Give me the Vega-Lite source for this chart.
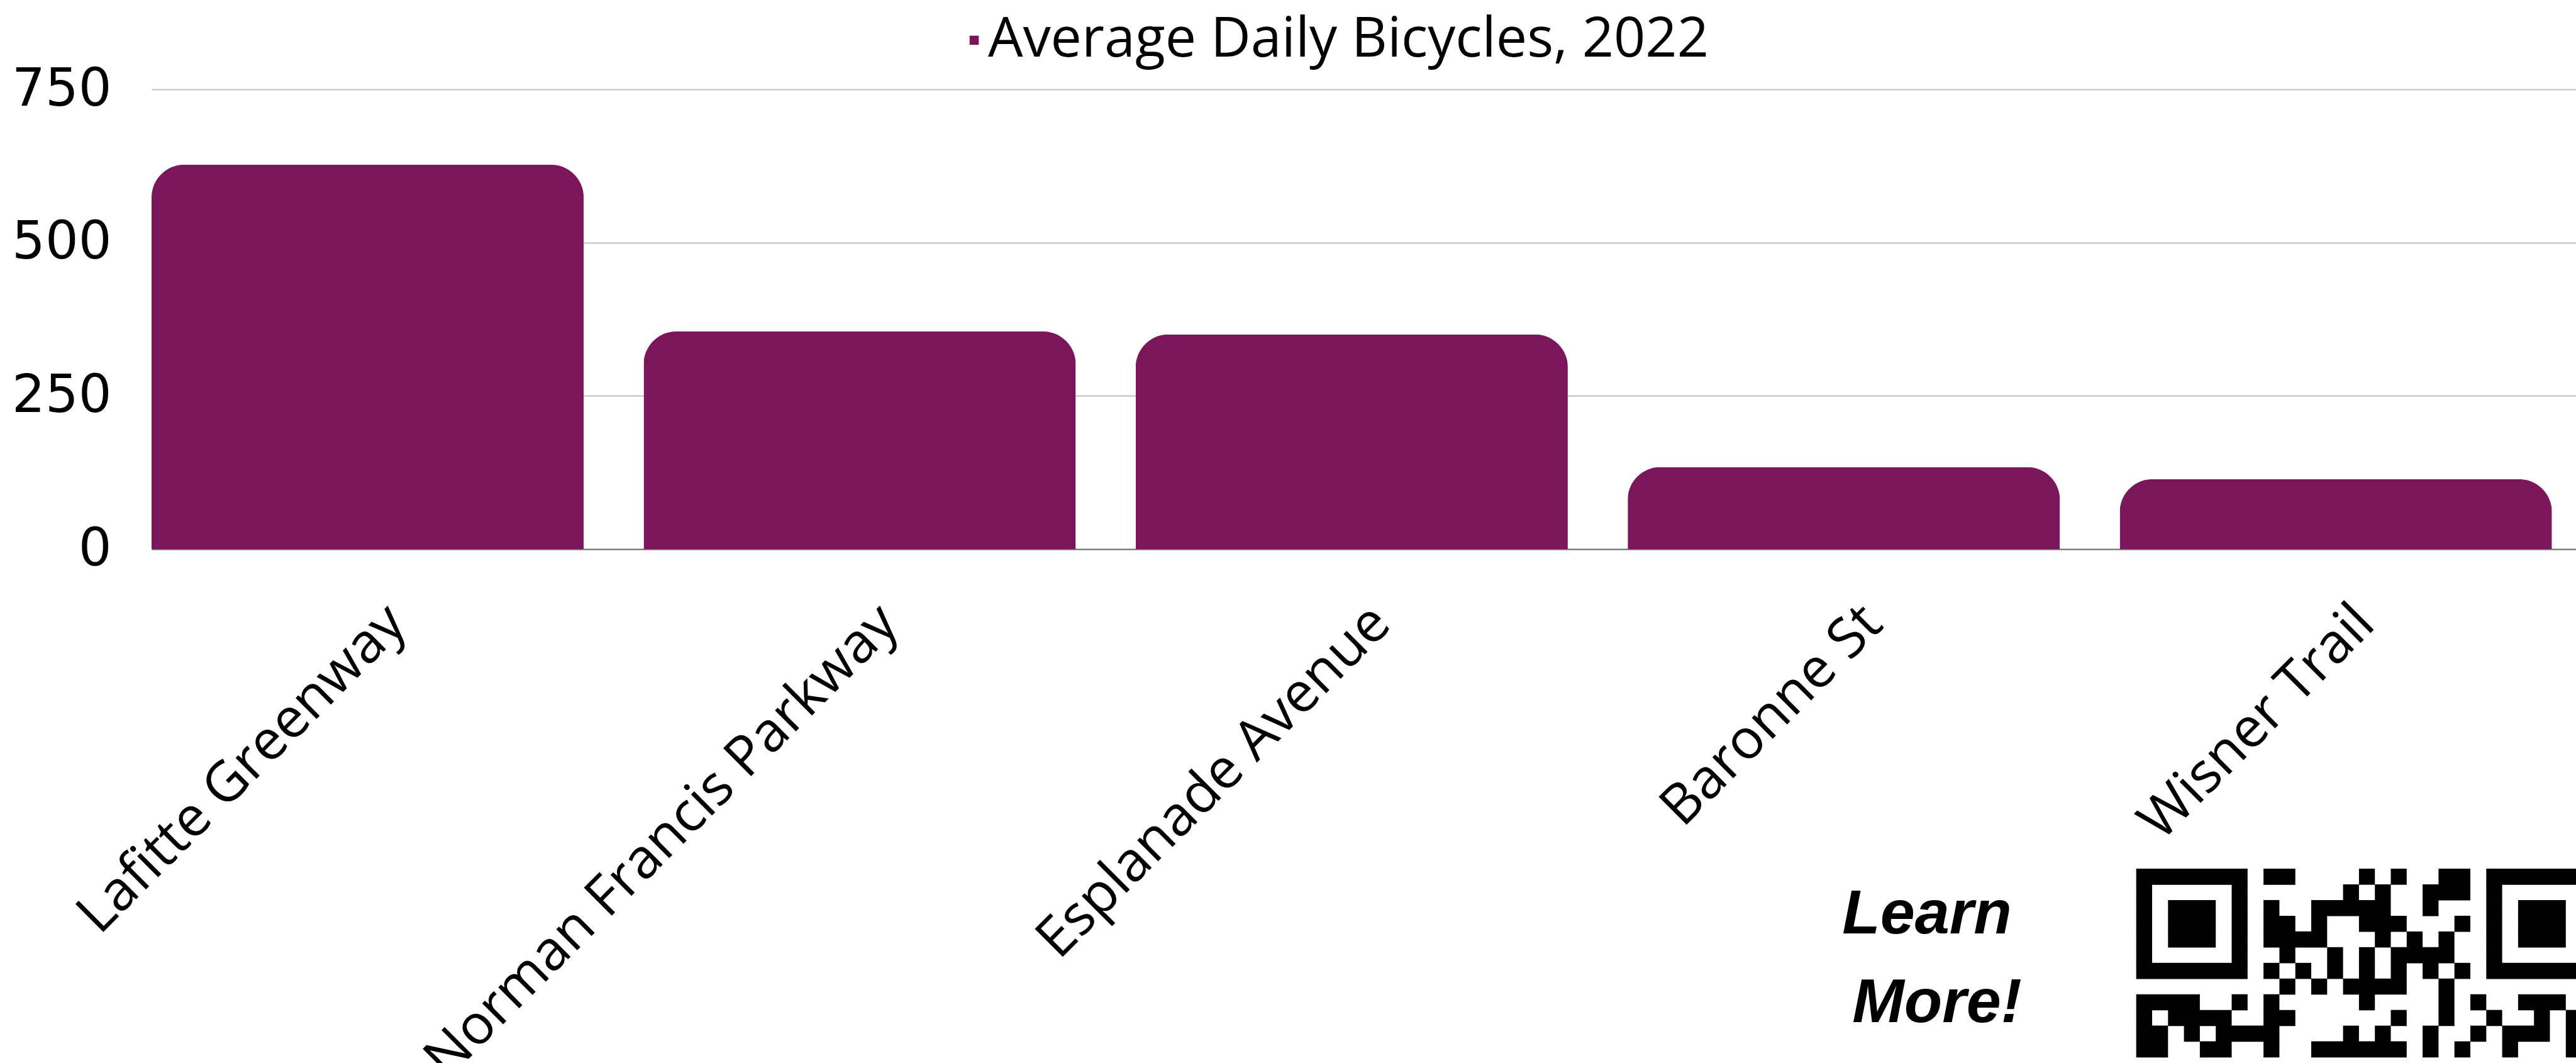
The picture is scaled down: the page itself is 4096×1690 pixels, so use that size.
{
  "$schema": "https://vega.github.io/schema/vega-lite/v6.json",
  "autosize": "none",
  "width": 3855,
  "height": 731,
  "padding": {"left": 241, "top": 142, "right": 0, "bottom": 817},
  "background": "white",
  "config": {"view": {"stroke": null}},
  "datasets": {
    "counts": [
      {"location": "Lafitte Greenway", "bicycles": 627},
      {"location": "Norman Francis Parkway", "bicycles": 355},
      {"location": "Esplanade Avenue", "bicycles": 350},
      {"location": "Baronne St", "bicycles": 134},
      {"location": "Wisner Trail", "bicycles": 114}
    ],
    "qr": [
      {"r": 0, "c": 0, "e": 7}, {"r": 0, "c": 8, "e": 10}, {"r": 0, "c": 14, "e": 15}, {"r": 0, "c": 16, "e": 17}, {"r": 0, "c": 19, "e": 21}, {"r": 0, "c": 22, "e": 29},
      {"r": 1, "c": 0, "e": 1}, {"r": 1, "c": 6, "e": 7}, {"r": 1, "c": 13, "e": 14}, {"r": 1, "c": 15, "e": 16}, {"r": 1, "c": 18, "e": 21}, {"r": 1, "c": 22, "e": 23}, {"r": 1, "c": 28, "e": 29},
      {"r": 2, "c": 0, "e": 1}, {"r": 2, "c": 2, "e": 5}, {"r": 2, "c": 6, "e": 7}, {"r": 2, "c": 8, "e": 9}, {"r": 2, "c": 11, "e": 16}, {"r": 2, "c": 18, "e": 19}, {"r": 2, "c": 22, "e": 23}, {"r": 2, "c": 24, "e": 27}, {"r": 2, "c": 28, "e": 29},
      {"r": 3, "c": 0, "e": 1}, {"r": 3, "c": 2, "e": 5}, {"r": 3, "c": 6, "e": 7}, {"r": 3, "c": 8, "e": 10}, {"r": 3, "c": 11, "e": 12}, {"r": 3, "c": 14, "e": 17}, {"r": 3, "c": 20, "e": 21}, {"r": 3, "c": 22, "e": 23}, {"r": 3, "c": 24, "e": 27}, {"r": 3, "c": 28, "e": 29},
      {"r": 4, "c": 0, "e": 1}, {"r": 4, "c": 2, "e": 5}, {"r": 4, "c": 6, "e": 7}, {"r": 4, "c": 8, "e": 12}, {"r": 4, "c": 15, "e": 16}, {"r": 4, "c": 17, "e": 18}, {"r": 4, "c": 19, "e": 20}, {"r": 4, "c": 22, "e": 23}, {"r": 4, "c": 24, "e": 27}, {"r": 4, "c": 28, "e": 29},
      {"r": 5, "c": 0, "e": 1}, {"r": 5, "c": 6, "e": 7}, {"r": 5, "c": 9, "e": 10}, {"r": 5, "c": 12, "e": 13}, {"r": 5, "c": 14, "e": 15}, {"r": 5, "c": 16, "e": 20}, {"r": 5, "c": 22, "e": 23}, {"r": 5, "c": 28, "e": 29},
      {"r": 6, "c": 0, "e": 7}, {"r": 6, "c": 8, "e": 9}, {"r": 6, "c": 10, "e": 11}, {"r": 6, "c": 12, "e": 13}, {"r": 6, "c": 14, "e": 15}, {"r": 6, "c": 16, "e": 17}, {"r": 6, "c": 18, "e": 19}, {"r": 6, "c": 20, "e": 21}, {"r": 6, "c": 22, "e": 29},
      {"r": 7, "c": 9, "e": 10}, {"r": 7, "c": 11, "e": 12}, {"r": 7, "c": 13, "e": 17}, {"r": 7, "c": 19, "e": 20},
      {"r": 8, "c": 0, "e": 4}, {"r": 8, "c": 6, "e": 7}, {"r": 8, "c": 8, "e": 9}, {"r": 8, "c": 14, "e": 15}, {"r": 8, "c": 19, "e": 20}, {"r": 8, "c": 21, "e": 22}, {"r": 8, "c": 24, "e": 27},
      {"r": 9, "c": 0, "e": 1}, {"r": 9, "c": 2, "e": 6}, {"r": 9, "c": 8, "e": 10}, {"r": 9, "c": 16, "e": 17}, {"r": 9, "c": 19, "e": 20}, {"r": 9, "c": 22, "e": 23}, {"r": 9, "c": 25, "e": 26}, {"r": 9, "c": 27, "e": 28},
      {"r": 10, "c": 0, "e": 2}, {"r": 10, "c": 3, "e": 4}, {"r": 10, "c": 5, "e": 9}, {"r": 10, "c": 13, "e": 14}, {"r": 10, "c": 15, "e": 16}, {"r": 10, "c": 18, "e": 19}, {"r": 10, "c": 21, "e": 22}, {"r": 10, "c": 23, "e": 26}, {"r": 10, "c": 27, "e": 28},
      {"r": 11, "c": 0, "e": 2}, {"r": 11, "c": 4, "e": 6}, {"r": 11, "c": 8, "e": 9}, {"r": 11, "c": 11, "e": 17}, {"r": 11, "c": 18, "e": 19}, {"r": 11, "c": 20, "e": 21}, {"r": 11, "c": 23, "e": 24}, {"r": 11, "c": 27, "e": 28}
    ]
  },
  "layer": [
    {
      "data": {"name": "counts"},
      "mark": {"type": "bar", "cornerRadiusTopLeft": 52, "cornerRadiusTopRight": 52},
      "encoding": {
        "x": {
          "field": "location", "type": "nominal", "sort": null,
          "scale": {"paddingInner": 0.1218, "paddingOuter": 0.0245, "align": 0},
          "axis": {
            "title": null, "labelAngle": -45, "labelFont": "Open Sans", "labelFontSize": 88,
            "labelColor": "black", "labelPadding": 73, "labelOffset": 16, "labelLimit": 3000,
            "labelOverlap": false, "ticks": false, "tickSize": 0, "domain": true,
            "domainColor": "#707070", "domainWidth": 2, "grid": false
          }
        },
        "y": {
          "field": "bicycles", "type": "quantitative",
          "scale": {"domain": [0, 750], "nice": false},
          "axis": {
            "title": null, "values": [0, 250, 500, 750], "labelFont": "DejaVu Sans", "labelFontSize": 83,
            "labelColor": "black", "labelPadding": 64, "ticks": false, "tickSize": 0, "domain": false,
            "grid": true, "gridColor": "#c0c0c0", "gridWidth": 2
          }
        },
        "color": {
          "datum": "Average Daily Bicycles, 2022",
          "scale": {"range": ["#7A1659"]},
          "legend": {
            "title": null, "orient": "none", "legendX": 1264, "legendY": -122, "padding": 0,
            "symbolType": "square", "symbolSize": 213, "symbolStrokeWidth": 0,
            "labelFont": "Open Sans", "labelFontSize": 88, "labelColor": "black",
            "labelOffset": -22, "labelLimit": 3000
          }
        }
      }
    },
    {
      "layer": [
        {
          "data": {"name": "qr"},
          "mark": {"type": "bar", "orient": "horizontal", "color": "black", "height": 25.6},
          "encoding": {
            "x": {"field": "c", "type": "quantitative", "scale": {"domain": [-124.73, 27.64], "nice": false, "zero": false}, "axis": null},
            "x2": {"field": "e"},
            "y": {"field": "r", "type": "quantitative", "scale": {"domain": [-49.96, -21.07], "reverse": true, "nice": false, "zero": false}, "axis": null}
          }
        },
        {
          "data": {"values": [{}]},
          "mark": {"type": "text", "text": "Learn", "font": "Liberation Sans", "fontWeight": "bold", "fontStyle": "italic", "fontSize": 99, "align": "center", "baseline": "alphabetic", "color": "black"},
          "encoding": {
            "x": {"datum": -13.15, "type": "quantitative", "axis": null},
            "y": {"datum": 3.6, "type": "quantitative", "axis": null}
          }
        },
        {
          "data": {"values": [{}]},
          "mark": {"type": "text", "text": "More!", "font": "Liberation Sans", "fontWeight": "bold", "fontStyle": "italic", "fontSize": 99, "align": "center", "baseline": "alphabetic", "color": "black"},
          "encoding": {
            "x": {"datum": -12.52, "type": "quantitative", "axis": null},
            "y": {"datum": 9.25, "type": "quantitative", "axis": null}
          }
        }
      ]
    }
  ],
  "resolve": {"scale": {"x": "independent", "y": "independent", "color": "independent"}}
}
